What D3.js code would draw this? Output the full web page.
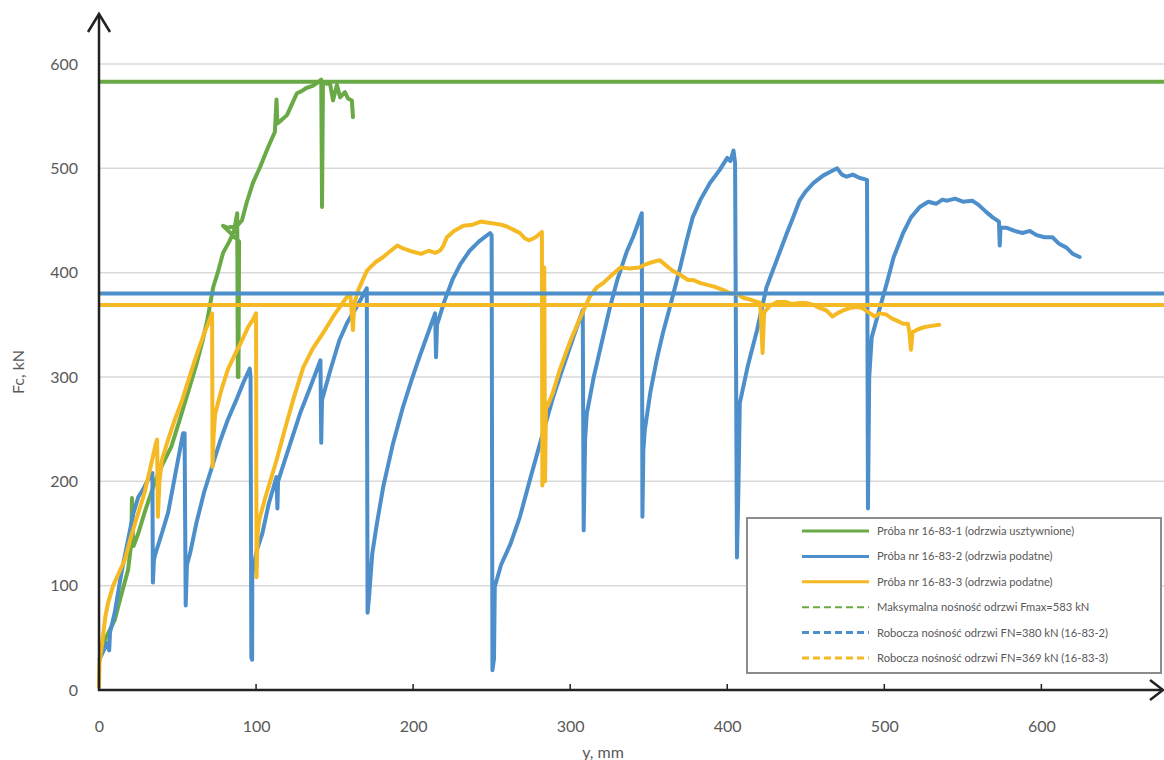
<!DOCTYPE html>
<html>
<head>
<meta charset="utf-8">
<script src="https://cdn.jsdelivr.net/npm/d3@7/dist/d3.min.js"></script>
<style>
  body { margin: 0; background: #fff; }
  text { font-family: Lato, "Open Sans", sans-serif; fill: #595959; }
</style>
</head>
<body>
<div class="canvas"></div>
<script>
// series: [y in mm, Fc in kN]
const proba1 = [
  [0.5, 30], [3, 45], [6, 55], [10, 67], [14, 90], [18.5, 115], [20.5, 140], [21, 184], [21.5, 150],
  [22, 138], [25, 150], [29, 170], [33, 188], [36, 201], [41, 218], [46, 233], [52, 262], [57, 287],
  [62, 312], [66, 335], [69, 355], [72.7, 386], [76, 402], [79, 419], [83, 430], [86, 440],
  [88, 457], [88.4, 300], [88.8, 300], [89.2, 430], [84.5, 437], [79, 445], [82, 443], [88, 445],
  [91, 450], [94, 467], [98, 486], [102.5, 501], [107.6, 520], [112, 535], [113, 566], [113.6, 543],
  [116, 546], [119.7, 551], [123, 562], [126, 572], [129, 574], [132, 577], [136, 579], [139, 582],
  [141.5, 585], [142, 463], [142.6, 583], [145, 581], [147, 582], [149, 565], [151.5, 580],
  [153.5, 568], [156.6, 573], [158.5, 567], [161, 565], [161.7, 549]
];

const proba2 = [
  [0.5, 30], [3, 38], [5, 45], [6.5, 38], [7, 55], [10, 74], [14, 110], [18.5, 144], [22, 170],
  [25, 185], [28, 192], [31, 201], [34, 208], [34.3, 103], [35, 125], [36, 131], [40, 150],
  [44, 170], [49, 210], [53.5, 246], [54.5, 246], [55.2, 81], [56, 120], [58, 131], [62, 160],
  [67, 190], [72, 214], [77, 238], [82, 259], [88, 280], [92, 295], [96, 308], [96.5, 300],
  [97, 31], [97.5, 29], [97.6, 108], [98, 115], [100.5, 134], [104, 150], [108, 178], [113, 204],
  [113.6, 174], [114, 200], [120, 228], [128, 265], [135, 292], [141, 316], [141.5, 237],
  [142, 278], [147, 305], [153, 335], [158, 352], [164, 367], [170.5, 385], [171, 74], [172, 90],
  [174, 131], [177, 160], [181, 195], [187, 235], [193.5, 271], [199, 297], [204, 319], [209, 340],
  [214, 361], [214.6, 319], [215.2, 350], [220, 373], [225, 393], [230, 408], [236, 421],
  [242, 430], [249, 438], [250, 436], [250.5, 19], [251.5, 30], [252, 99], [256, 120], [262, 140],
  [268, 166], [275, 205], [282.6, 246], [289, 280], [295.4, 309], [302, 338], [308, 364],
  [308.6, 153], [309.5, 240], [310.6, 265], [315, 300], [319, 326], [325, 365], [330, 393],
  [336, 420], [340, 434], [345.6, 457], [346, 166], [346.6, 230], [347.5, 249], [351, 285],
  [355, 316], [359, 342], [363.5, 367], [370, 405], [374, 430], [378, 453], [383, 470], [389, 486],
  [395, 498], [400, 510], [402, 507], [404, 517], [405, 505], [406.2, 127], [407.2, 200],
  [408, 275], [413, 310], [419, 345], [425, 386], [431, 410], [438, 438], [442, 453], [446, 469],
  [450, 478], [455, 486], [461, 493], [466, 497], [470, 500], [473, 494], [476, 492], [480, 494],
  [484, 491], [489, 489], [489.6, 174], [490.4, 300], [492, 338], [496, 360], [501.6, 390],
  [506, 415], [512, 438], [517, 453], [522.6, 463], [528, 468], [533, 466], [537, 470], [540, 469],
  [545, 471], [550, 468], [556, 469], [560, 465], [565, 458], [569, 453], [573, 449], [573.5, 426],
  [574, 443], [578, 443], [583, 440], [588, 438], [592.6, 440], [597, 436], [602, 434], [607, 434],
  [611, 428], [616, 424], [620, 418], [624.4, 415]
];

const proba3 = [
  [0, 3], [0.3, 26], [2, 45], [4, 70], [5.7, 83], [9, 100], [12, 110], [16.5, 125], [20, 145],
  [24, 165], [29, 189], [33, 215], [36, 235], [37, 240], [37.5, 166], [38.5, 200], [40, 220],
  [44, 240], [48, 258], [53, 278], [58, 302], [63, 325], [67, 342], [69.5, 351], [72, 361],
  [72.3, 214], [73, 245], [74, 265], [78, 288], [82, 307], [87, 323], [91, 335], [95, 348],
  [98, 355], [100, 361], [100.3, 108], [101, 150], [102, 163], [106, 185], [110, 205], [113, 220],
  [118, 248], [124, 280], [130, 309], [136, 327], [142.6, 342], [150, 360], [158, 377], [160, 380],
  [161.7, 345], [162.5, 370], [165, 383], [170.6, 402], [176, 410], [181, 415], [185, 420],
  [190, 426], [194, 423], [200, 420], [205, 418], [210, 421], [214, 419], [217, 421], [219, 425],
  [221.5, 434], [226, 440], [232, 445], [238, 446], [243, 449], [247, 448], [252, 447], [256, 446],
  [260, 444], [264, 441], [268, 438], [271, 433], [274, 431], [278, 434], [282, 439], [282.3, 196],
  [283, 330], [283.5, 405], [284, 200], [284.6, 275], [285.5, 272], [289, 285], [293, 305],
  [297, 322], [300, 334], [305, 352], [312.5, 377], [317, 386], [321, 390], [326, 397], [332, 405],
  [338, 404], [344, 405], [348, 408], [352, 410], [357, 412], [361, 407], [365, 402], [370, 398],
  [375, 393], [378, 393], [383, 390], [388, 388], [393, 386], [398, 383], [402, 380], [406, 380],
  [410, 376], [415, 374], [421, 371], [422.5, 323], [423.5, 362], [427, 368], [432, 372],
  [437, 372], [441, 370], [446, 371], [450, 371], [455, 369], [459, 366], [463, 364], [467, 358],
  [470, 361], [474, 364], [478, 366], [482.5, 367], [486, 366], [490, 362], [494, 358], [497, 361],
  [501, 360], [505, 356], [508, 354], [512, 351], [515, 351], [516, 343], [517, 326], [518, 343],
  [522, 346], [526, 348], [530, 349], [535, 350]
];

const refValues = [583, 380, 369];
const legendNames = [
  "Próba nr 16-83-1 (odrzwia usztywnione)",
  "Próba nr 16-83-2 (odrzwia podatne)",
  "Próba nr 16-83-3 (odrzwia podatne)",
  "Maksymalna nośność odrzwi Fmax=583 kN",
  "Robocza nośność odrzwi FN=380 kN (16-83-2)",
  "Robocza nośność odrzwi FN=369 kN (16-83-3)"
];
const xTicks = [0, 100, 200, 300, 400, 500, 600];
const yTicks = [0, 100, 200, 300, 400, 500, 600];

const colors = ["#6aaa46", "#4d8fca", "#f5b923"];
const dims = { width: 1164, height: 760 };

const svg = d3
  .select(".canvas")
  .append("svg")
  .attr("width", dims.width)
  .attr("height", dims.height);

const x = d3.scaleLinear().domain([0, 680]).range([99, 1167]);
const y = d3.scaleLinear().domain([0, 600]).range([690, 64]);

// gridlines
svg
  .append("g")
  .selectAll("line")
  .data(yTicks.filter((d) => d > 0))
  .enter()
  .append("line")
  .attr("x1", x(0))
  .attr("x2", dims.width)
  .attr("y1", (d) => y(d))
  .attr("y2", (d) => y(d))
  .attr("stroke", "#d9d9d9")
  .attr("stroke-width", 1.5);

// tick labels through the axis generators
const yAxis = svg
  .append("g")
  .attr("transform", `translate(${x(0)},0)`)
  .call(d3.axisLeft(y).tickValues(yTicks).tickSize(0).tickPadding(21));
yAxis.select(".domain").remove();
yAxis.selectAll("text").style("font-size", "16px").attr("fill", "#595959");

const xAxis = svg
  .append("g")
  .attr("transform", `translate(0,${y(0)})`)
  .call(d3.axisBottom(x).tickValues(xTicks).tickSize(0));
xAxis.select(".domain").remove();
xAxis
  .selectAll("text")
  .attr("y", 42)
  .attr("dy", 0)
  .style("font-size", "16px")
  .attr("fill", "#595959");

// data lines
const line = d3
  .line()
  .x((d) => x(d[0]))
  .y((d) => y(d[1]));

const plot = svg.append("g");
[proba1, proba2, proba3].forEach((series, i) => {
  plot
    .append("path")
    .datum(series)
    .attr("d", line)
    .attr("fill", "none")
    .attr("stroke", colors[i])
    .attr("stroke-width", 4)
    .attr("stroke-linejoin", "round")
    .attr("stroke-linecap", "round");
});

// reference levels
plot
  .selectAll(".ref")
  .data(refValues)
  .enter()
  .append("line")
  .attr("class", "ref")
  .attr("x1", x(0))
  .attr("x2", dims.width)
  .attr("y1", (d) => y(d))
  .attr("y2", (d) => y(d))
  .attr("stroke", (d, i) => colors[i])
  .attr("stroke-width", 4);

// axis lines with arrow heads
const axisColor = "#222";
svg
  .append("line")
  .attr("x1", x(0))
  .attr("x2", x(0))
  .attr("y1", y(0) + 1)
  .attr("y2", 14)
  .attr("stroke", axisColor)
  .attr("stroke-width", 2.5);
svg
  .append("path")
  .attr("d", `M${x(0) - 11},32 L${x(0)},14 L${x(0) + 11},32`)
  .attr("fill", "none")
  .attr("stroke", axisColor)
  .attr("stroke-width", 2.5);
svg
  .append("line")
  .attr("x1", x(0) - 1)
  .attr("x2", 1163)
  .attr("y1", y(0))
  .attr("y2", y(0))
  .attr("stroke", axisColor)
  .attr("stroke-width", 2.5);
svg
  .append("path")
  .attr("d", `M1150,${y(0) - 10} L1163,${y(0)} L1150,${y(0) + 10}`)
  .attr("fill", "none")
  .attr("stroke", axisColor)
  .attr("stroke-width", 2.5);

svg
  .append("g")
  .selectAll("line")
  .data(xTicks.filter((d) => d > 0))
  .enter()
  .append("line")
  .attr("x1", (d) => x(d))
  .attr("x2", (d) => x(d))
  .attr("y1", y(0))
  .attr("y2", y(0) - 6)
  .attr("stroke", axisColor)
  .attr("stroke-width", 1.5);

// axis titles
svg
  .append("text")
  .attr("transform", `translate(24, 372) rotate(-90)`)
  .attr("text-anchor", "middle")
  .style("font-size", "16px")
  .text("Fc, kN");

svg
  .append("text")
  .attr("x", 603)
  .attr("y", 758)
  .attr("text-anchor", "middle")
  .style("font-size", "16px")
  .text("y, mm");

// legend
const legend = svg.append("g");
legend
  .append("rect")
  .attr("x", 747)
  .attr("y", 518)
  .attr("width", 414)
  .attr("height", 155)
  .attr("fill", "#fff")
  .attr("stroke", "#8c8c8c")
  .attr("stroke-width", 2);

const items = legend
  .selectAll(".item")
  .data(legendNames)
  .enter()
  .append("g")
  .attr("class", "item")
  .attr("transform", (d, i) => `translate(0, ${531 + i * 25.4})`);

items
  .append("line")
  .attr("x1", 802)
  .attr("x2", 869)
  .attr("stroke", (d, i) => colors[i % 3])
  .attr("stroke-width", (d, i) => (i === 3 ? 2 : 3))
  .attr("stroke-dasharray", (d, i) => (i > 2 ? "7,4" : null));

items
  .append("text")
  .attr("x", 877)
  .attr("dy", "0.35em")
  .style("font-size", "11.2px")
  .text((d) => d);
</script>
</body>
</html>
